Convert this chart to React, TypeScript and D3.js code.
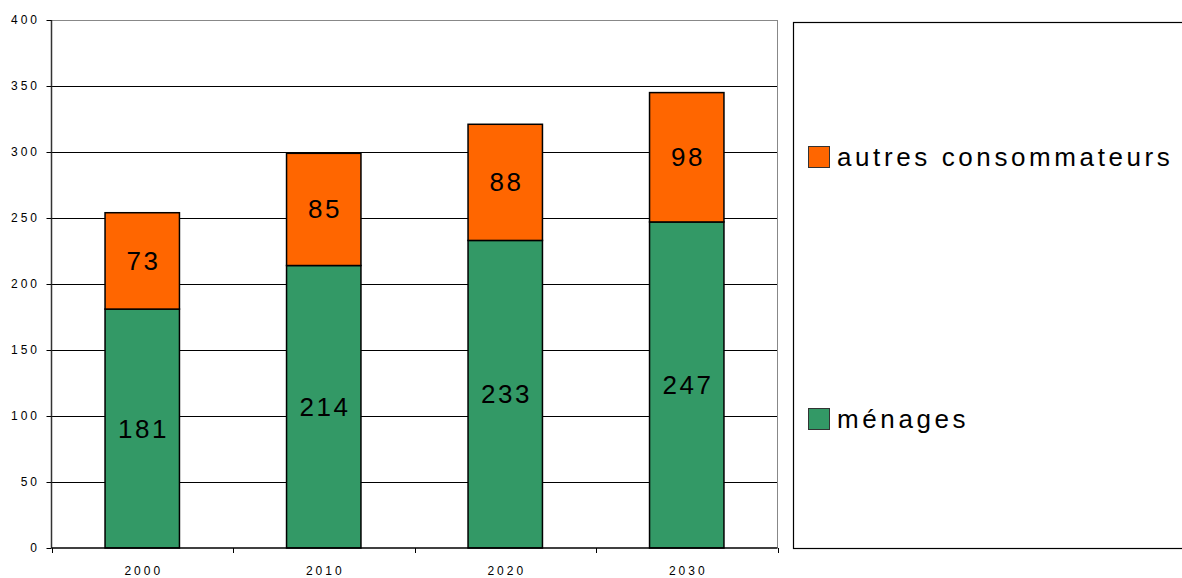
import React, { useEffect, useRef } from 'react';
import * as d3 from 'd3';

const years = ['2000', '2010', '2020', '2030'];
const menages = [181, 214, 233, 247];
const autres = [73, 85, 88, 98];
const yTicks = [0, 50, 100, 150, 200, 250, 300, 350, 400];
const seriesNames = ['autres consommateurs', 'ménages'];
const seriesColors = ['#FF6600', '#339966'];

const App: React.FC = () => {
  const svgRef = useRef<SVGSVGElement>(null);

  useEffect(() => {
    if (!svgRef.current) return;
    const svg = d3.select(svgRef.current);
    svg.selectAll('*').remove();

    const left = 51.5;
    const right = 777.5;
    const top = 20;
    const bottom = 548;
    const font = 'Liberation Sans, Arial, sans-serif';

    const x = d3.scaleBand().domain(years).range([left, right]);
    const y = d3.scaleLinear().domain([0, 400]).range([bottom, top]);
    const barW = x.bandwidth() * 0.41;

    // gridlines
    svg.append('g')
      .selectAll('line')
      .data(yTicks.filter((t) => t > 0))
      .join('line')
      .attr('x1', left).attr('x2', right)
      .attr('y1', (d) => Math.round(y(d)) + 0.5).attr('y2', (d) => Math.round(y(d)) + 0.5)
      .attr('stroke', (d) => (d === 400 ? '#888' : '#000'))
      .attr('stroke-width', 1);

    // right border
    svg.append('line')
      .attr('x1', right).attr('x2', right)
      .attr('y1', top).attr('y2', bottom)
      .attr('stroke', '#888');

    // bars
    const cx = (i: number) => (x(years[i]) as number) + x.bandwidth() / 2;
    const valLs = 2.5;
    const g = svg.append('g');
    years.forEach((yr, i) => {
      const m = menages[i];
      const a = autres[i];
      g.append('rect')
        .attr('x', cx(i) - barW / 2).attr('width', barW)
        .attr('y', y(m)).attr('height', y(0) - y(m))
        .attr('fill', seriesColors[1]).attr('stroke', '#000').attr('stroke-width', 1.5);
      g.append('rect')
        .attr('x', cx(i) - barW / 2).attr('width', barW)
        .attr('y', y(m + a)).attr('height', y(m) - y(m + a))
        .attr('fill', seriesColors[0]).attr('stroke', '#000').attr('stroke-width', 1.5);
      g.append('text')
        .attr('x', cx(i) + valLs / 2).attr('y', (y(0) + y(m)) / 2 + 9)
        .attr('text-anchor', 'middle')
        .attr('font-family', font).attr('font-size', 26).attr('letter-spacing', valLs)
        .attr('fill', '#000')
        .text(m);
      g.append('text')
        .attr('x', cx(i) + valLs / 2).attr('y', (y(m) + y(m + a)) / 2 + 9)
        .attr('text-anchor', 'middle')
        .attr('font-family', font).attr('font-size', 26).attr('letter-spacing', valLs)
        .attr('fill', '#000')
        .text(a);
    });

    // y axis
    svg.append('line')
      .attr('x1', left).attr('x2', left)
      .attr('y1', top).attr('y2', bottom)
      .attr('stroke', '#333').attr('stroke-width', 1.5);
    const tickLs = 3;
    const ya = svg.append('g');
    yTicks.forEach((t) => {
      ya.append('line')
        .attr('x1', left - 5).attr('x2', left)
        .attr('y1', Math.round(y(t)) + 0.5).attr('y2', Math.round(y(t)) + 0.5)
        .attr('stroke', '#000');
      ya.append('text')
        .attr('x', 37 + tickLs).attr('y', y(t) + 4)
        .attr('text-anchor', 'end')
        .attr('font-family', font).attr('font-size', 12).attr('letter-spacing', tickLs)
        .attr('fill', '#000')
        .text(t);
    });

    // x axis
    svg.append('line')
      .attr('x1', left).attr('x2', right)
      .attr('y1', bottom).attr('y2', bottom)
      .attr('stroke', '#000').attr('stroke-width', 1.5);
    const xa = svg.append('g');
    years.forEach((yr, i) => {
      xa.append('text')
        .attr('x', cx(i) + tickLs / 2).attr('y', 575)
        .attr('text-anchor', 'middle')
        .attr('font-family', font).attr('font-size', 12).attr('letter-spacing', tickLs)
        .attr('fill', '#000')
        .text(yr);
    });
    [...years.map((yr) => x(yr) as number), right].forEach((tx) => {
      xa.append('line')
        .attr('x1', Math.round(tx) + 0.5).attr('x2', Math.round(tx) + 0.5)
        .attr('y1', bottom).attr('y2', bottom + 5)
        .attr('stroke', '#000');
    });

    // legend
    svg.append('rect')
      .attr('x', 793.5).attr('y', 22.5)
      .attr('width', 400).attr('height', 526)
      .attr('fill', '#fff').attr('stroke', '#000').attr('stroke-width', 1.2);
    const legY = [146, 408];
    seriesNames.forEach((name, i) => {
      svg.append('rect')
        .attr('x', 808.5).attr('y', legY[i] + 0.5)
        .attr('width', 21).attr('height', 21)
        .attr('fill', seriesColors[i]).attr('stroke', '#333').attr('stroke-width', 1);
      svg.append('text')
        .attr('x', 837).attr('y', legY[i] + 20)
        .attr('font-family', font).attr('font-size', 26).attr('letter-spacing', 3.6)
        .attr('fill', '#000')
        .text(name);
    });
  }, []);

  return (
    <svg
      ref={svgRef}
      width={1182}
      height={578}
      style={{ position: 'absolute', left: 0, top: 0, background: '#fff' }}
    />
  );
};

export default App;
